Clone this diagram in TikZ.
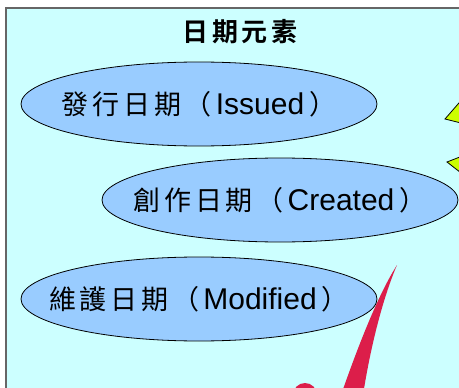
\documentclass[tikz,border=0pt]{standalone}
\usepackage{fontspec}
\setmainfont{Liberation Sans}
\newfontfamily\cjk[LetterSpace=14]{Noto Sans CJK TC}
\newfontfamily\cjkbold[LetterSpace=15]{Noto Sans CJK TC Bold}
\usetikzlibrary{shapes.geometric}
\definecolor{boxfill}{HTML}{CCFFFF}
\definecolor{ovalfill}{HTML}{99CCFF}
\definecolor{arrowfill}{HTML}{CCFF00}
\definecolor{tickred}{HTML}{DC1E4A}
\tikzset{
  dateoval/.style={ellipse, draw=black, line width=.8pt, fill=ovalfill,
    minimum width=356pt, minimum height=84pt, inner sep=0pt},
  datetext/.style={font=\fontsize{27}{30}\selectfont},
}
\newcommand{\latinpart}[1]{\kern4pt{\fontsize{30}{32}\selectfont\rmfamily #1}\kern5pt}

\begin{document}
\begin{tikzpicture}[x=1pt, y=-1pt]
      \useasboundingbox (0,0) rectangle (459,388);
      \clip (0,0) rectangle (459,388);
      % frame
      \draw[fill=boxfill, draw=black!60, line width=1.5pt] (6,8) rectangle (480,400);
      % title
      \node (title) at (240,32) {\cjkbold\fontsize{26}{28}\selectfont 日期元素};
      % ovals
      \node[dateoval] (issued) at (199,104) {};
      \node[datetext] at (issued.center) {\cjk 發行日期（\latinpart{Issued}）};
      \node[dateoval] (created) at (280,200) {};
      \node[datetext] at (created.center) {\cjk 創作日期（\latinpart{Created}）};
      \node[dateoval] (modified) at (199,299) {};
      \node[datetext] at (modified.center) {\cjk 維護日期（\latinpart{Modified}）};
      % arrow tips at the right edge
      \draw[fill=arrowfill, line width=.8pt] (445,119) -- (465,96) -- (465,124) -- cycle;
      \draw[fill=arrowfill, line width=.8pt] (447,162) -- (465,155) -- (465,176) -- cycle;
      % tick
      \fill[tickred] (397,265) .. controls (380,292) and (362,335) .. (341,395)
        -- (363,395) .. controls (370,350) and (382,300) .. cycle;
      \fill[tickred] (305,395) circle (12);
\end{tikzpicture}
\end{document}
